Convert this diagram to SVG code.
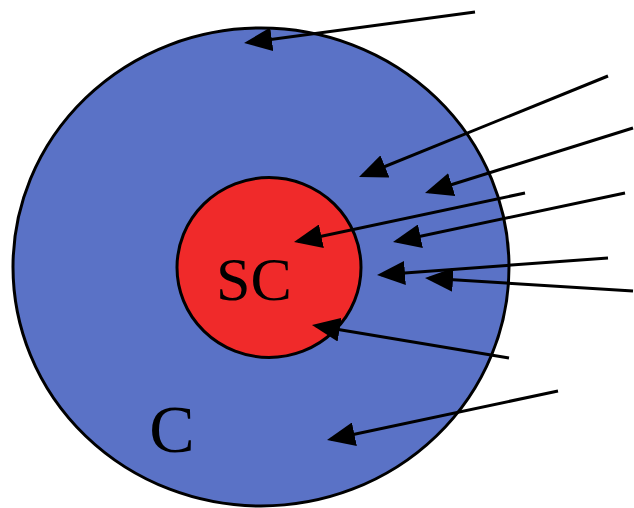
<svg xmlns="http://www.w3.org/2000/svg" width="634" height="508" viewBox="0 0 634 508">
<defs>
<style>
.ring{fill:#5a72c6;stroke:#000;stroke-width:3}
.core{fill:#f02a2a;stroke:#000;stroke-width:3}
.lbl{font-family:"Liberation Serif","Times New Roman",serif;fill:#000;text-anchor:middle}
.arr{stroke:#000;stroke-width:3;fill:none;marker-end:url(#ah)}
</style>
<marker id="ah" viewBox="0 0 28 24" refX="24" refY="12" markerWidth="28" markerHeight="24" markerUnits="userSpaceOnUse" orient="auto">
<path d="M0,0 L28,12 L0,24 z" fill="#000"/>
</marker>
</defs>
<rect width="634" height="508" fill="#fff"/>
<g id="C">
<ellipse class="ring" cx="261" cy="267" rx="248" ry="239"/>
<text class="lbl" x="172" y="452" font-size="68">C</text>
</g>
<g id="SC">
<ellipse class="core" cx="269" cy="267.5" rx="92" ry="90"/>
<text class="lbl" x="254" y="300" font-size="62">SC</text>
</g>
<g id="connectors">
<line class="arr" x1="475" y1="12" x2="248" y2="42.5"/>
<line class="arr" x1="608" y1="76" x2="362.7" y2="175.5"/>
<line class="arr" x1="633" y1="128" x2="428.8" y2="191.8"/>
<line class="arr" x1="525" y1="193" x2="297.9" y2="241.2"/>
<line class="arr" x1="625" y1="193" x2="396.9" y2="241.2"/>
<line class="arr" x1="608" y1="258" x2="381" y2="274.7"/>
<line class="arr" x1="633" y1="291" x2="429" y2="278.2"/>
<line class="arr" x1="509" y1="358" x2="315.9" y2="325.7"/>
<line class="arr" x1="558" y1="391" x2="330.9" y2="439.2"/>
</g>
</svg>
